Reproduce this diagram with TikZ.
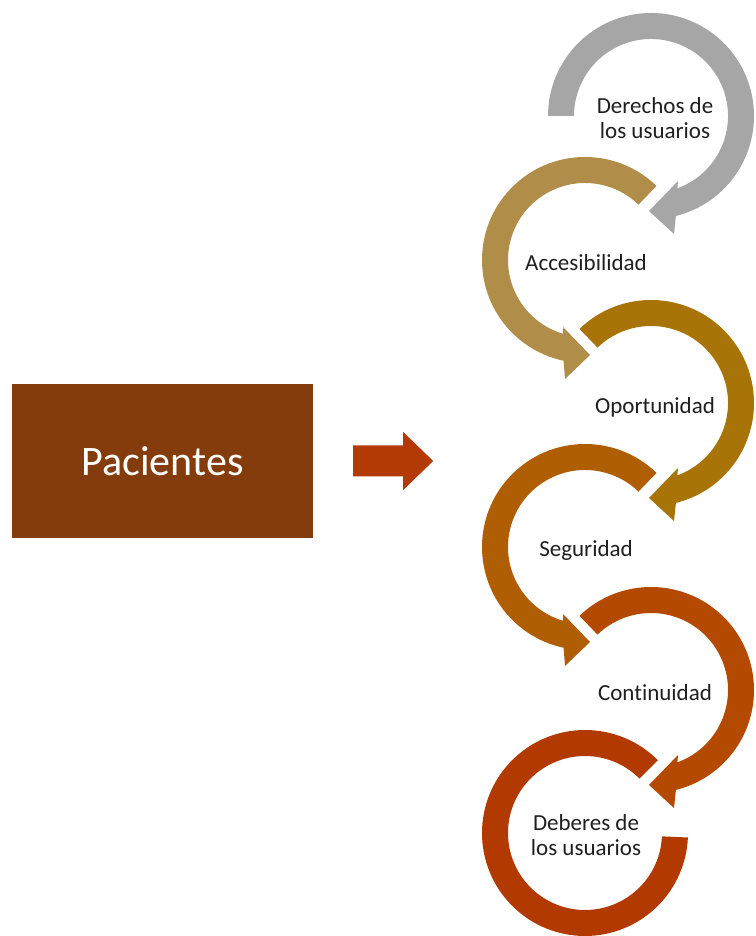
\documentclass[tikz,border=0pt]{standalone}
\usepackage{fontspec}
\setmainfont{Carlito}[Ligatures=NoCommon]
\usepackage{tikz}
\usetikzlibrary{positioning}
\definecolor{boxbrown}{HTML}{843C0C}
\definecolor{arrowred}{HTML}{B33A04}
\definecolor{loopgray}{HTML}{A6A6A6}
\definecolor{looptan}{HTML}{B08D48}
\definecolor{loopgold}{HTML}{A87408}
\definecolor{loopamber}{HTML}{AF5E04}
\definecolor{looprust}{HTML}{B44A02}
\definecolor{loopred}{HTML}{B23A00}
\tikzstyle{block} = [rectangle, fill=boxbrown, text=white, minimum width=301pt,
    minimum height=154pt, font=\fontsize{42}{50}\selectfont]
\tikzstyle{label} = [text=black!88, align=center, font=\fontsize{23}{25}\selectfont]
% right column: clockwise, head at the bottom pointing left
\newcommand{\rightloop}[3]{%
  \fill[#3, shift={(#1)}] (#2:103) arc[start angle=#2, end angle=-76, radius=103]
    -- (23,-118) -- (-2,-95) -- (27,-65) -- (-70:77)
    arc[start angle=-70, end angle=#2, radius=77] -- cycle;}
% left column: anticlockwise, head at the bottom pointing right
\newcommand{\leftloop}[3]{%
  \fill[#3, shift={(#1)}] (#2:103) arc[start angle=#2, end angle=258, radius=103]
    -- (-20,-119) -- (5,-95) -- (-22,-67) -- (253.5:77)
    arc[start angle=253.5, end angle=#2, radius=77] -- cycle;}
\begin{document}
\begin{tikzpicture}[x=1pt, y=1pt]
      \useasboundingbox (0,0) rectangle (755,936);
      % loop centres
      \coordinate (c1) at (651,820);
      \coordinate (c2) at (585,676);
      \coordinate (c3) at (651,533);
      \coordinate (c4) at (585,389);
      \coordinate (c5) at (651,246);
      \coordinate (c6) at (585,103);
      % loops
      \rightloop{c1}{180}{loopgray}
      \leftloop{c2}{46}{looptan}
      \rightloop{c3}{134}{loopgold}
      \leftloop{c4}{46}{loopamber}
      \rightloop{c5}{134}{looprust}
      \fill[loopred, shift={(c6)}] (45:103) arc[start angle=45, end angle=357.5, radius=103]
        -- (357.5:77) arc[start angle=357.5, end angle=45, radius=77] -- cycle;
      % labels
      \node [label] (derechos) at ([xshift=4pt, yshift=-2pt]c1) {Derechos de\\los usuarios};
      \node [label] (accesibilidad) at ([xshift=1pt, yshift=-3pt]c2) {Accesibilidad};
      \node [label] (oportunidad) at ([xshift=4pt, yshift=-4pt]c3) {Oportunidad};
      \node [label] (seguridad) at ([xshift=1pt, yshift=-3pt]c4) {Seguridad};
      \node [label] (continuidad) at ([xshift=4pt, yshift=-3pt]c5) {Continuidad};
      \node [label] (deberes) at ([xshift=1pt, yshift=-2pt]c6) {Deberes de\\los usuarios};
      % box and block arrow
      \node [block] (pacientes) at (162.5,475) {Pacientes};
      \coordinate [right=40pt of pacientes] (arrowtail);
      \fill [arrowred] (arrowtail) ++(0,15.5) -- ++(50,0) -- ++(0,13.5) -- ++(30,-29)
        -- ++(-30,-29) -- ++(0,13.5) -- ++(-50,0) -- cycle;
\end{tikzpicture}
\end{document}
